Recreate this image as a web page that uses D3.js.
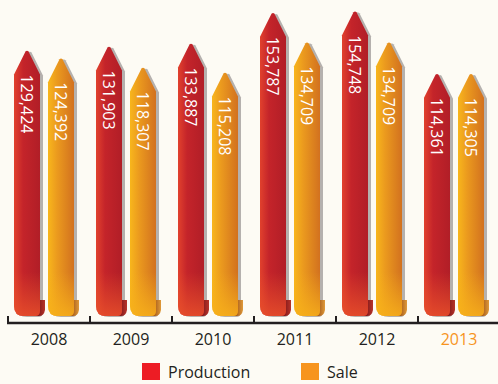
<!DOCTYPE html>
<html>
<head>
<meta charset="utf-8">
<script src="https://cdn.jsdelivr.net/npm/d3@7/dist/d3.min.js"></script>
<style>
  html, body { margin: 0; padding: 0; background: #fdfbf4; }
  svg { display: block; font-family: "Open Sans", "Noto Sans", sans-serif; }
</style>
</head>
<body>
<svg id="chart" width="498" height="384"></svg>
<script>
const years = ["2008", "2009", "2010", "2011", "2012", "2013"];
const production = [129424, 131903, 133887, 153787, 154748, 114361];
const sale = [124392, 118307, 115208, 134709, 134709, 114305];
const seriesNames = ["Production", "Sale"];

const W = 498, H = 384;
const baseY = 316;      // bottom of the ribbons
const axisY = 323;      // axis line
const svg = d3.select("#chart");

svg.append("rect").attr("width", W).attr("height", H).attr("fill", "#fdfbf4");

const x = d3.scaleBand().domain(years).range([8, 500]).paddingInner(0).paddingOuter(0);
const xInner = d3.scaleBand().domain(seriesNames).range([6, 66]).paddingInner(8 / 34).paddingOuter(0);
const y = d3.scaleLinear().domain([0, 160000]).range([251, 3]);

const palette = {
  Production: { light: "#e1412d", mid: "#c4242a", dark: "#b11e27", foot: "#e8502a", back: ["#6e1015", "#b8342a"], legend: "#ed1c24" },
  Sale:       { light: "#f8b61c", mid: "#eb9a1e", dark: "#d2711f", foot: "#f7b01a", back: ["#93470f", "#e09a3a"], legend: "#f7941d" }
};

const defs = svg.append("defs");
seriesNames.forEach((s, i) => {
  const c = palette[s];
  const g = defs.append("linearGradient").attr("id", "body" + i)
    .attr("x1", 0).attr("x2", 1).attr("y1", 0).attr("y2", 0);
  g.append("stop").attr("offset", "0%").attr("stop-color", c.light);
  g.append("stop").attr("offset", "35%").attr("stop-color", c.mid);
  g.append("stop").attr("offset", "100%").attr("stop-color", c.dark);

  const f = defs.append("linearGradient").attr("id", "foot" + i)
    .attr("gradientUnits", "userSpaceOnUse")
    .attr("x1", 0).attr("x2", 0).attr("y1", 272).attr("y2", baseY);
  f.append("stop").attr("offset", "0%").attr("stop-color", c.foot).attr("stop-opacity", 0);
  f.append("stop").attr("offset", "100%").attr("stop-color", c.foot).attr("stop-opacity", 0.85);

  const b = defs.append("linearGradient").attr("id", "back" + i)
    .attr("x1", 0).attr("x2", 1).attr("y1", 0).attr("y2", 0);
  b.append("stop").attr("offset", "0%").attr("stop-color", c.back[0]);
  b.append("stop").attr("offset", "100%").attr("stop-color", c.back[1]);
});

// Arrow-shaped ribbon: pointed top, rounded bottom corners
function ribbonPath(x0, w, top) {
  const x1 = x0 + w, cx = x0 + w / 2, sh = top + 24;
  const p = d3.path();
  p.moveTo(cx - 1.5, top + 1);
  p.quadraticCurveTo(cx, top - 0.5, cx + 1.5, top + 1);
  p.lineTo(x1, sh);
  p.lineTo(x1, baseY - 5);
  p.quadraticCurveTo(x1, baseY, x1 - 5, baseY);
  p.lineTo(x0 + 10, baseY);
  p.quadraticCurveTo(x0, baseY, x0, baseY - 10);
  p.lineTo(x0, sh);
  p.closePath();
  return p.toString();
}

// Curled back side peeking out at the lower right
function curlPath(x0, w) {
  const x1 = x0 + w;
  const p = d3.path();
  p.moveTo(x1 - 4, baseY - 16);
  p.lineTo(x1 + 5, baseY - 16);
  p.lineTo(x1 + 5, baseY - 6);
  p.quadraticCurveTo(x1 + 4, baseY, x1 - 1, baseY);
  p.lineTo(x1 - 4, baseY);
  p.closePath();
  return p.toString();
}

const rows = years.map((yr, i) => ({ year: yr, values: [production[i], sale[i]] }));

const groups = svg.selectAll("g.year").data(rows).join("g")
  .attr("class", "year")
  .attr("transform", d => `translate(${x(d.year)},0)`);

groups.each(function(d) {
  const g = d3.select(this);
  seriesNames.forEach((s, i) => {
    const v = d.values[i];
    const x0 = xInner(s), w = xInner.bandwidth(), top = y(v);
    // shadow
    g.append("path").attr("d", ribbonPath(x0, w, top))
      .attr("transform", "translate(3,1)")
      .attr("fill", "#a8a3a1").attr("opacity", 0.85);
    // curled tab
    g.append("path").attr("d", curlPath(x0, w)).attr("fill", `url(#back${i})`);
    // body
    g.append("path").attr("d", ribbonPath(x0, w, top)).attr("fill", `url(#body${i})`);
    // lighter foot
    g.append("path").attr("d", ribbonPath(x0, w, top)).attr("fill", `url(#foot${i})`);
    // value label
    g.append("text")
      .attr("transform", `translate(${x0 + w / 2},${top + 24}) rotate(90)`)
      .attr("dominant-baseline", "central")
      .attr("font-size", 16)
      .attr("fill", "#ffffff")
      .text(d3.format(",")(v));
  });
});

// axis line with ticks at category boundaries
svg.append("line").attr("x1", 7).attr("x2", W).attr("y1", axisY).attr("y2", axisY)
  .attr("stroke", "#231f20").attr("stroke-width", 2.5);
svg.selectAll("line.bound").data(years).join("line")
  .attr("class", "bound")
  .attr("x1", d => x(d)).attr("x2", d => x(d))
  .attr("y1", axisY - 7).attr("y2", axisY)
  .attr("stroke", "#231f20").attr("stroke-width", 2);

const axis = svg.append("g").attr("transform", `translate(0,${axisY})`)
  .call(d3.axisBottom(x).tickSize(0).tickPadding(11));
axis.select(".domain").remove();
axis.selectAll("text")
  .attr("font-family", "Open Sans, Noto Sans, sans-serif")
  .attr("font-size", 16)
  .attr("fill", (d, i) => i === years.length - 1 ? "#f7941d" : "#231f20");

// legend
const legendX = [142, 301];
const legend = svg.selectAll("g.legend").data(seriesNames).join("g")
  .attr("class", "legend")
  .attr("transform", (d, i) => `translate(${legendX[i]},363)`);
legend.append("rect").attr("width", 18).attr("height", 17).attr("fill", d => palette[d].legend);
legend.append("text").attr("x", 26).attr("y", 15).attr("font-size", 16)
  .attr("fill", "#231f20").text(d => d);
</script>
</body>
</html>
